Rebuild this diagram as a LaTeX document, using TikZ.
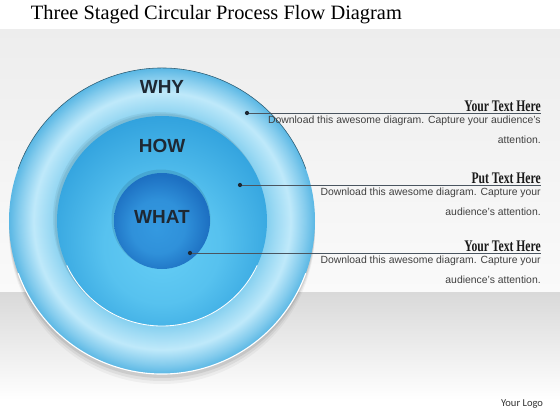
\documentclass[tikz,border=0pt]{standalone}
\usepackage{fontspec}
\setmainfont{Liberation Serif}
\newfontfamily\bodyfont{Liberation Sans}
\newfontfamily\stagefont{Liberation Sans}
\newfontfamily\headfont[FakeStretch=0.72]{Liberation Serif}
\newfontfamily\logofont{Carlito}
\usetikzlibrary{positioning}

\definecolor{ringouter}{HTML}{5AB7E4}
\definecolor{ringlight}{HTML}{BFE9FA}
\definecolor{ringinner}{HTML}{84CFEF}
\definecolor{midtop}{HTML}{2E9FDC}
\definecolor{midbot}{HTML}{64CDF5}
\definecolor{coredark}{HTML}{1D70C2}
\definecolor{corelight}{HTML}{3499E0}
\definecolor{inkdark}{HTML}{1E2833}
\definecolor{leadergray}{HTML}{4A5560}

\pgfdeclareradialshading{ringshade}{\pgfpoint{0bp}{0bp}}{color(0bp)=(ringinner); color(17bp)=(ringinner); color(18.5bp)=(ringinner!60!ringlight); color(21bp)=(ringlight); color(23.5bp)=(ringouter!60!ringlight); color(25bp)=(ringouter); color(50bp)=(ringouter)}
\pgfdeclareradialshading{midshade}{\pgfpoint{0bp}{-8bp}}{color(0bp)=(midbot); color(14bp)=(midbot!75!midtop); color(30bp)=(midtop); color(50bp)=(midtop)}
\pgfdeclareradialshading{coreshade}{\pgfpoint{-3bp}{-4bp}}{color(0bp)=(corelight); color(14bp)=(corelight!80!coredark); color(26bp)=(coredark); color(50bp)=(coredark)}

\begin{document}
\begin{tikzpicture}[x=0.025cm,y=-0.025cm,
    dot/.style={circle,fill=inkdark,inner sep=0pt,minimum size=3pt},
    leader/.style={draw=leadergray,line width=0.5pt},
    headline/.style={font=\headfont\bfseries\fontsize{11.5}{12}\selectfont,text=black!90,inner sep=0pt},
    blurb/.style={font=\bodyfont\fontsize{7.4}{14.2}\selectfont,text=black!75,align=right,inner sep=0pt},
    stage/.style={font=\stagefont\bfseries\fontsize{13.5}{14}\selectfont,text=inkdark}]
    \useasboundingbox (0,0) rectangle (560,420);
    \fill[white] (0,0) rectangle (560,30);
    \shade[top color=black!7, bottom color=black!2] (0,30) rectangle (560,292);
    \shade[top color=black!15, bottom color=white] (0,292) rectangle (560,400);
    \fill[white] (0,400) rectangle (560,420);

    \coordinate (c) at (162,221);
    \foreach \d/\o in {10/0.04,7/0.06,4/0.08}
        \fill[black,opacity=\o] (162,{221+\d}) circle (153);
    \shade[shading=ringshade] (c) circle (153);
    \draw[ringouter!50!black, line width=0.4pt] ([shift={(200:153)}]c) arc (200:340:153);
    \draw[white, line width=0.8pt] ([shift={(20:153)}]c) arc (20:160:153);

    \foreach \d/\o in {3/0.05,1.5/0.06}
        \fill[black,opacity=\o] ({162-\d},{221-\d}) circle (106);
    \shade[shading=midshade] (c) circle (105);
    \draw[white, line width=0.6pt] ([shift={(25:105)}]c) arc (25:155:105);

    \fill[black,opacity=0.1] (161,219) circle (49.5);
    \shade[shading=coreshade] (c) circle (48);

    \node[stage] (why) at (162,87) {WHY};
    \node[stage] (how) at (162,146) {HOW};
    \node[stage] (what) at (162,217) {WHAT};

    \node[dot] (d1) at (247,113) {};
    \node[dot] (d2) at (240,185) {};
    \node[dot] (d3) at (190,253) {};
    \coordinate (e1) at (541,113);
    \coordinate (e2) at (541,185);
    \coordinate (e3) at (541,253);

    \path[leader] (d1) -- (e1);
    \path[leader] (d2) -- (e2);
    \path[leader] (d3) -- (e3);

    \node[headline, above left=1pt and 0pt of e1] (h1) {Your Text Here};
    \node[headline, above left=1pt and 0pt of e2] (h2) {Put Text Here};
    \node[headline, above left=1pt and 0pt of e3] (h3) {Your Text Here};

    \node[blurb, below left=2pt and 0pt of e1] (b1) {Download this awesome diagram. Capture your audience’s\\attention.};
    \node[blurb, below left=2pt and 0pt of e2] (b2) {Download this awesome diagram. Capture your\\audience’s attention.};
    \node[blurb, below left=2pt and 0pt of e3] (b3) {Download this awesome diagram. Capture your\\audience’s attention.};

    \node[anchor=west, font=\fontsize{14.5}{16}\selectfont] (title) at (26,15) {Three Staged Circular Process Flow Diagram};
    \node[anchor=east, font=\logofont\fontsize{7.5}{9}\selectfont, text=black!80] (logo) at (548,404) {Your Logo};
\end{tikzpicture}
\end{document}
